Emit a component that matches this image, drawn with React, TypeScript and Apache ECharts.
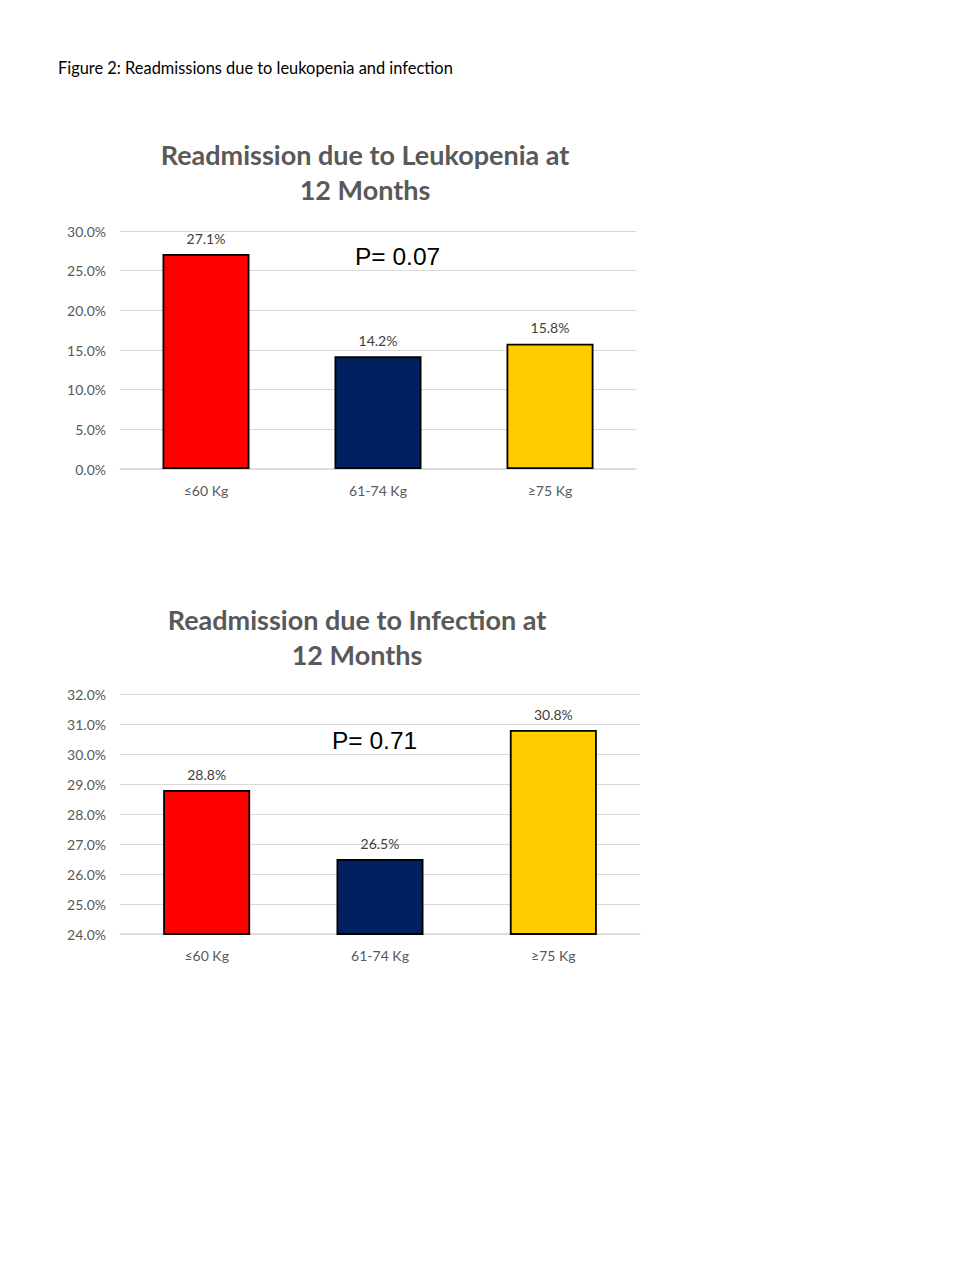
import React, { useEffect, useRef } from "react";
import * as echarts from "echarts";

const categories = ["≤60 Kg", "61-74 Kg", "≥75 Kg"];
const leukopeniaValues = [27.1, 14.2, 15.8];
const infectionValues = [28.8, 26.5, 30.8];
const barColors = ["#FF0000", "#002060", "#FFCC00"];
const leukoTicks = { min: 0, max: 30, interval: 5 };
const infectTicks = { min: 24, max: 32, interval: 1 };

const gray = "#595959";
const font = "Lato, 'Open Sans', sans-serif";

function barData(vals: number[]) {
  return vals.map((v, i) => ({
    value: v,
    itemStyle: {
      color: barColors[i],
      borderColor: "#000",
      borderWidth: 1.8,
    },
  }));
}

export default function App() {
  const ref = useRef<HTMLDivElement>(null);
  useEffect(() => {
    const chart = echarts.init(ref.current!, null, { renderer: "svg" });
    const axisLabelFmt = (v: number) => v.toFixed(1) + "%";
    const xAxisCommon = {
      type: "category" as const,
      data: categories,
      axisTick: { show: false },
      axisLine: { lineStyle: { color: "#d9d9d9", width: 1.5 } },
      axisLabel: { color: gray, fontSize: 14, fontFamily: font, margin: 14 },
    };
    const yAxisCommon = {
      type: "value" as const,
      axisLine: { show: false },
      axisTick: { show: false },
      splitLine: { lineStyle: { color: "#d9d9d9" } },
      axisLabel: { color: gray, fontSize: 14, fontFamily: font, formatter: axisLabelFmt, margin: 14 },
    };
    const labelCfg = {
      show: true,
      position: "top" as const,
      color: "#404040",
      fontSize: 14,
      fontFamily: font,
      distance: 9,
      formatter: (p: any) => p.value.toFixed(1) + "%",
    };
    chart.setOption({
      animation: false,
      backgroundColor: "#fff",
      title: [
        {
          text: "Figure 2: Readmissions due to leukopenia and infection",
          left: 53,
          top: 54,
          textStyle: { color: "#000", fontSize: 16.4, fontWeight: "normal", fontFamily: font },
        },
        {
          text: "Readmission due to Leukopenia at\n12 Months",
          left: 360,
          top: 132,
          textAlign: "center",
          textStyle: { color: gray, fontSize: 27, fontWeight: "bold", fontFamily: font, lineHeight: 35 },
        },
        {
          text: "Readmission due to Infection at\n12 Months",
          left: 352,
          top: 597,
          textAlign: "center",
          textStyle: { color: gray, fontSize: 27, fontWeight: "bold", fontFamily: font, lineHeight: 35 },
        },
      ],
      graphic: [
        {
          type: "text",
          left: 355,
          top: 244,
          style: { text: "P= 0.07", fill: "#000", fontSize: 24.5, fontFamily: "Arial, 'Liberation Sans', sans-serif" },
        },
        {
          type: "text",
          left: 332,
          top: 728,
          style: { text: "P= 0.71", fill: "#000", fontSize: 24.5, fontFamily: "Arial, 'Liberation Sans', sans-serif" },
        },
      ],
      grid: [
        { left: 120, top: 231, width: 516, height: 238 },
        { left: 120, top: 694, width: 520, height: 240 },
      ],
      xAxis: [
        { ...xAxisCommon, gridIndex: 0 },
        { ...xAxisCommon, gridIndex: 1 },
      ],
      yAxis: [
        { ...yAxisCommon, gridIndex: 0, ...leukoTicks },
        { ...yAxisCommon, gridIndex: 1, ...infectTicks },
      ],
      series: [
        {
          type: "bar",
          xAxisIndex: 0,
          yAxisIndex: 0,
          barWidth: 87,
          data: barData(leukopeniaValues),
          label: labelCfg,
        },
        {
          type: "bar",
          xAxisIndex: 1,
          yAxisIndex: 1,
          barWidth: 87,
          data: barData(infectionValues),
          label: labelCfg,
        },
      ],
    });
    return () => chart.dispose();
  }, []);
  return (
    <div
      ref={ref}
      style={{ position: "absolute", left: 0, top: 0, width: 978, height: 1265 }}
    />
  );
}
